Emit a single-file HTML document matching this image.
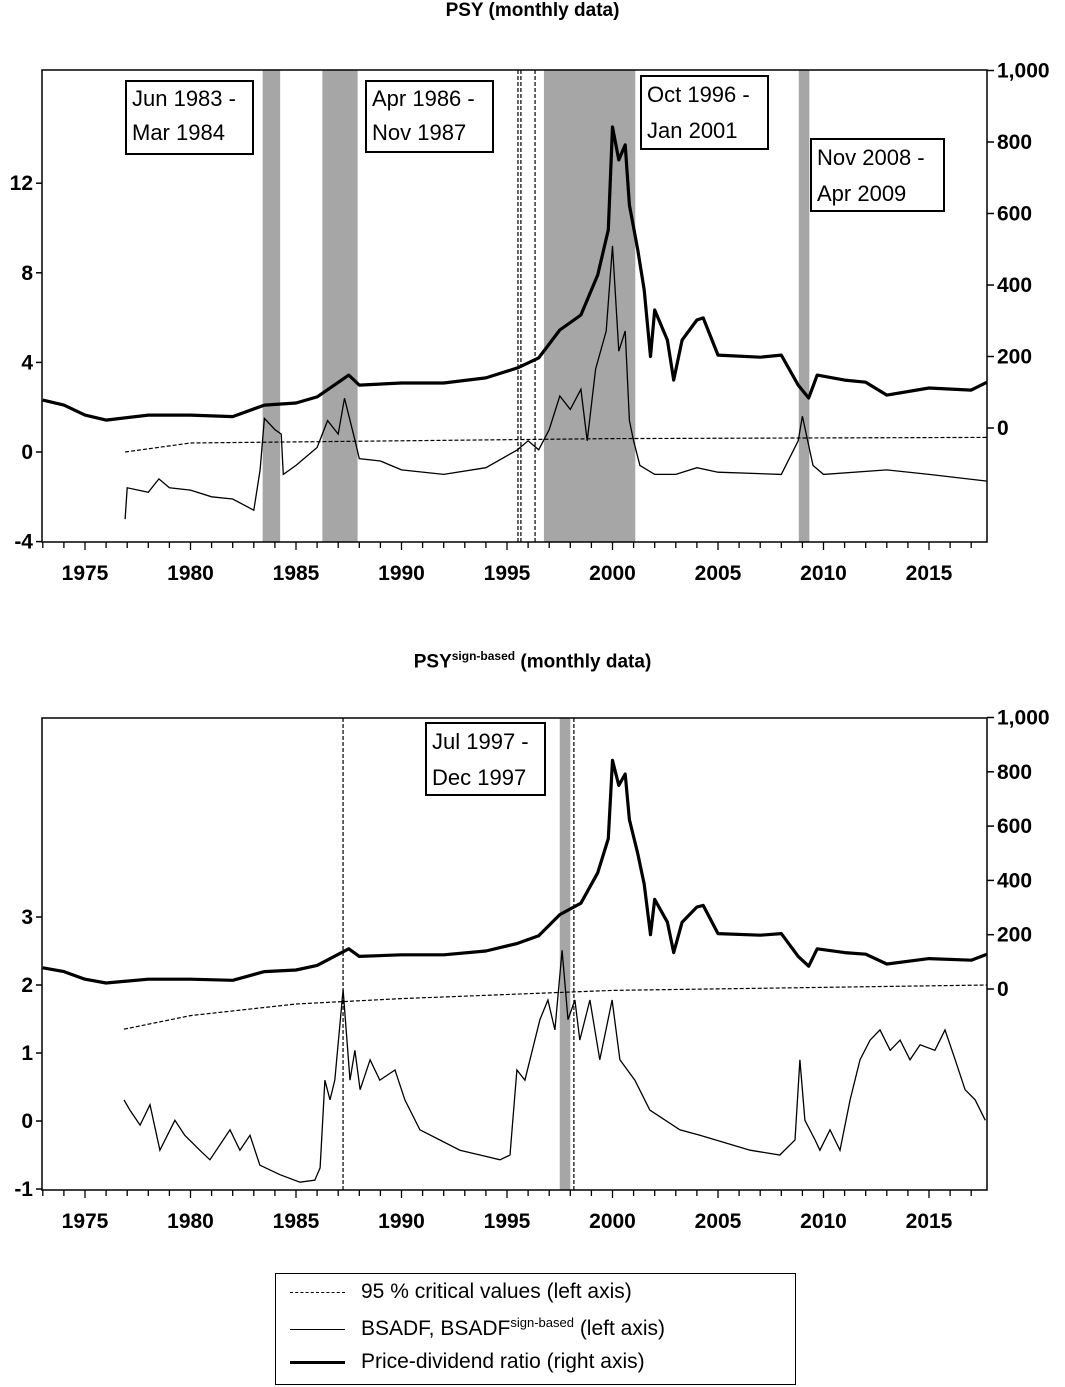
<!DOCTYPE html>
<html><head><meta charset="utf-8"><style>
body{margin:0;background:#fff;}
svg{display:block;font-family:"Liberation Sans",sans-serif;}
</style></head><body>
<svg id="c" width="1065" height="1387" viewBox="0 0 1065 1387" xmlns="http://www.w3.org/2000/svg"></svg>
<script>
// ---- data ----
const pdYears = [1973,1974,1975,1976,1978,1980,1982,1983.5,1985,1986,1987.5,1988,1990,1992,1994,1995.5,1996.5,1997.5,1998.5,1999.3,1999.8,2000.0,2000.3,2000.6,2000.8,2001.2,2001.5,2001.8,2002,2002.6,2002.9,2003.3,2004,2004.3,2005,2007,2008,2008.8,2009.3,2009.7,2011,2012,2013,2015,2017,2017.75];
const pdValues = [78,64,36,22,36,36,32,64,70,87,148,120,126,126,140,168,196,274,316,428,554,842,750,792,624,498,386,200,330,246,134,246,302,308,204,198,204,120,84,148,134,128,92,112,106,128];

const bsTopYears = [1976.9,1977,1978,1978.5,1979,1980,1981,1982,1983,1983.3,1983.5,1984,1984.3,1984.4,1985,1986,1986.5,1987,1987.3,1987.8,1988,1989,1990,1992,1994,1995.5,1996,1996.5,1997,1997.5,1998,1998.5,1998.8,1999.2,1999.7,2000.0,2000.3,2000.6,2000.8,2001.0,2001.3,2002,2003,2004,2005,2008,2008.8,2009,2009.5,2010,2013,2015,2017.75];
const bsTopValues = [-3.0,-1.6,-1.8,-1.2,-1.6,-1.7,-2.0,-2.1,-2.6,-0.8,1.5,1.0,0.8,-1.0,-0.6,0.2,1.4,0.8,2.4,0.5,-0.3,-0.4,-0.8,-1.0,-0.7,0.1,0.5,0.1,1.0,2.5,1.9,2.8,0.5,3.7,5.4,9.2,4.5,5.4,1.4,0.5,-0.6,-1.0,-1.0,-0.7,-0.9,-1.0,0.5,1.6,-0.6,-1.0,-0.8,-1.0,-1.3];

const cvTopYears = [1976.9,1980,1990,2000,2017.75];
const cvTopValues = [0.0,0.4,0.5,0.6,0.65];

const bsBotYears = [1976.85,1977.13,1977.61,1978.08,1978.55,1979.26,1979.73,1980.44,1980.92,1981.87,1982.34,1982.82,1983.29,1984.24,1985.19,1985.89,1986.14,1986.37,1986.61,1986.84,1987.23,1987.56,1987.79,1988.04,1988.51,1988.97,1989.69,1990.16,1990.87,1991.82,1992.77,1993.72,1994.67,1995.14,1995.47,1995.85,1996.56,1996.94,1997.27,1997.61,1997.89,1998.22,1998.45,1998.93,1999.4,1999.98,2000.35,2001.06,2001.77,2003.19,2004.14,2006.52,2007.93,2008.65,2008.88,2009.12,2009.6,2009.83,2010.31,2010.78,2011.26,2011.73,2012.21,2012.68,2013.16,2013.63,2014.1,2014.58,2015.28,2015.76,2016.24,2016.71,2017.19,2017.67];
const bsBotValues = [0.31,0.16,-0.06,0.24,-0.43,0.01,-0.21,-0.43,-0.57,-0.13,-0.43,-0.21,-0.65,-0.79,-0.90,-0.87,-0.69,0.6,0.31,0.6,1.93,0.6,1.04,0.46,0.9,0.6,0.75,0.31,-0.13,-0.28,-0.43,-0.5,-0.57,-0.5,0.75,0.6,1.49,1.78,1.34,2.51,1.49,1.78,1.19,1.78,0.9,1.78,0.9,0.6,0.16,-0.13,-0.21,-0.43,-0.5,-0.28,0.9,0.01,-0.28,-0.43,-0.13,-0.43,0.31,0.9,1.19,1.34,1.04,1.19,0.9,1.12,1.04,1.34,0.9,0.46,0.31,0.01];

const cvBotYears = [1976.85,1980,1985,1990,2000,2017.75];
const cvBotValues = [1.35,1.55,1.72,1.8,1.92,2.0];

const xTickLabels = ["1975","1980","1985","1990","1995","2000","2005","2010","2015"];
const topLeftTicks = [12,8,4,0,-4];
const botLeftTicks = [3,2,1,0,-1];
const rightTickLabels = ["1,000","800","600","400","200","0"];
const rightTickValues = [1000,800,600,400,200,0];

const topShades = [[1983.42,1984.25],[1986.25,1987.92],[1996.75,2001.08],[2008.83,2009.33]];
const topVLines = [1995.52,1995.66,1996.33];
const botShades = [[1997.5,1998.0]];
const botVLines = [1987.23,1998.17];

// ---- axes ----
const X0=42, X1=987;
function x(yr){return 85+(yr-1975)*21.1;}
const panels=[
 {name:'top',top:70,bot:542,ly:v=>452-22.4*v,ry:p=>428-p*0.3575,lt:topLeftTicks,bs:[bsTopYears,bsTopValues],cv:[cvTopYears,cvTopValues],shades:topShades,vl:topVLines},
 {name:'bottom',top:718,bot:1190,ly:v=>1121-68*v,ry:p=>989-p*0.2715,lt:botLeftTicks,bs:[bsBotYears,bsBotValues],cv:[cvBotYears,cvBotValues],shades:botShades,vl:botVLines}
];
const svg=document.getElementById('c');
const NS='http://www.w3.org/2000/svg';
function mk(tag,attrs,parent){const e=document.createElementNS(NS,tag);for(const k in attrs)e.setAttribute(k,attrs[k]);(parent||svg).appendChild(e);return e;}
function path(xs,ys,f){let d='';for(let i=0;i<xs.length;i++)d+=(i?'L':'M')+x(xs[i]).toFixed(1)+' '+f(ys[i]).toFixed(1);return d;}

panels.forEach(P=>{
 const g=mk('g',{});
 
 
 P.shades.forEach(s=>{
  const r=mk('rect',{x:x(s[0]),y:P.top,width:x(s[1])-x(s[0]),height:P.bot-P.top,fill:'#a6a6a6'},g);
  
  
 });
 P.vl.forEach(v=>{
  const l=mk('line',{x1:x(v),x2:x(v),y1:P.top,y2:P.bot,stroke:'#000','stroke-width':1.2,'stroke-dasharray':'4,2'},g);
  
  
 });
 const cv=mk('path',{d:path(P.cv[0],P.cv[1],P.ly),fill:'none',stroke:'#000','stroke-width':1.2,'stroke-dasharray':'4,2'},g);
 
 
 const bs=mk('path',{d:path(P.bs[0],P.bs[1],P.ly),fill:'none',stroke:'#000','stroke-width':1.3},g);
 
 
 const pd=mk('path',{d:path(pdYears,pdValues,P.ry),fill:'none',stroke:'#000','stroke-width':3.2,'stroke-linejoin':'round'},g);
 
 
 const fr=mk('rect',{x:X0,y:P.top,width:X1-X0,height:P.bot-P.top,fill:'none',stroke:'#000','stroke-width':1.5},g);
 
 
 P.lt.forEach(v=>{
  const yy=P.ly(v);
  mk('line',{x1:X0-6,x2:X0,y1:yy,y2:yy,stroke:'#000','stroke-width':1.5},g);
  const t=mk('text',{x:X0-9,y:yy+7,'text-anchor':'end','font-size':21,'font-weight':'bold'},g);
  t.textContent=v;
  
  
 });
 rightTickValues.forEach((v,i)=>{
  const yy=P.ry(v);
  mk('line',{x1:X1,x2:X1+7,y1:yy,y2:yy,stroke:'#000','stroke-width':1.5},g);
  const t=mk('text',{x:X1+10,y:yy+7,'font-size':21,'font-weight':'bold'},g);
  t.textContent=rightTickLabels[i];
  
  
 });
 for(let yr=1973;yr<=2017;yr++){
  const big=yr%5===0;
  mk('line',{x1:x(yr),x2:x(yr),y1:P.bot,y2:P.bot+(big?8:6),stroke:'#000','stroke-width':1.3},g);
 }
 xTickLabels.forEach(s=>{
  const t=mk('text',{x:x(+s),y:P.bot+38,'text-anchor':'middle','font-size':21,'font-weight':'bold'},g);
  t.textContent=s;
  
  
 });
});
</script>
<div style="position:absolute;left:0;top:0;width:1065px;height:1387px;font-family:'Liberation Sans',sans-serif;pointer-events:none">
 <div style="position:absolute;left:0;width:1065px;top:0;text-align:center;font-weight:bold;font-size:19px">PSY (monthly data)</div>
 <div style="position:absolute;left:0;width:1065px;top:649px;text-align:center;font-weight:bold;font-size:19px">PSY<sup style="font-size:12px">sign-based</sup> (monthly data)</div>
 <div style="position:absolute;left:125px;top:80px;width:129px;height:75px;border:2px solid #000;background:#fff;font-size:22px;line-height:34px;padding-left:5px;box-sizing:border-box">Jun 1983 -<br>Mar 1984</div>
 <div style="position:absolute;left:365px;top:80px;width:129px;height:73px;border:2px solid #000;background:#fff;font-size:22px;line-height:34px;padding-left:5px;box-sizing:border-box">Apr 1986 -<br>Nov 1987</div>
 <div style="position:absolute;left:640px;top:75px;width:129px;height:75px;border:2px solid #000;background:#fff;font-size:22px;line-height:36px;padding-left:5px;box-sizing:border-box">Oct 1996 -<br>Jan 2001</div>
 <div style="position:absolute;left:810px;top:138px;width:135px;height:74px;border:2px solid #000;background:#fff;font-size:22px;line-height:36px;padding-left:5px;box-sizing:border-box">Nov 2008 -<br>Apr 2009</div>
 <div style="position:absolute;left:425px;top:722px;width:121px;height:74px;border:2px solid #000;background:#fff;font-size:22px;line-height:36px;padding-left:5px;box-sizing:border-box">Jul 1997 -<br>Dec 1997</div>
 <div style="position:absolute;left:275px;top:1273px;width:521px;height:112px;border:1.5px solid #000;box-sizing:border-box;font-size:21px">
  <div style="position:absolute;left:14px;top:6px;white-space:nowrap"><span style="display:inline-block;width:55px;border-top:1.5px dashed #000;vertical-align:middle;margin-right:16px"></span>95 % critical values (left axis)</div>
  <div style="position:absolute;left:14px;top:41px;white-space:nowrap"><span style="display:inline-block;width:55px;border-top:1.3px solid #000;vertical-align:middle;margin-right:16px"></span>BSADF, BSADF<sup style="font-size:13px">sign-based</sup> (left axis)</div>
  <div style="position:absolute;left:14px;top:76px;white-space:nowrap"><span style="display:inline-block;width:55px;border-top:3.5px solid #000;vertical-align:middle;margin-right:16px"></span>Price-dividend ratio (right axis)</div>
 </div>
</div>
</body></html>
